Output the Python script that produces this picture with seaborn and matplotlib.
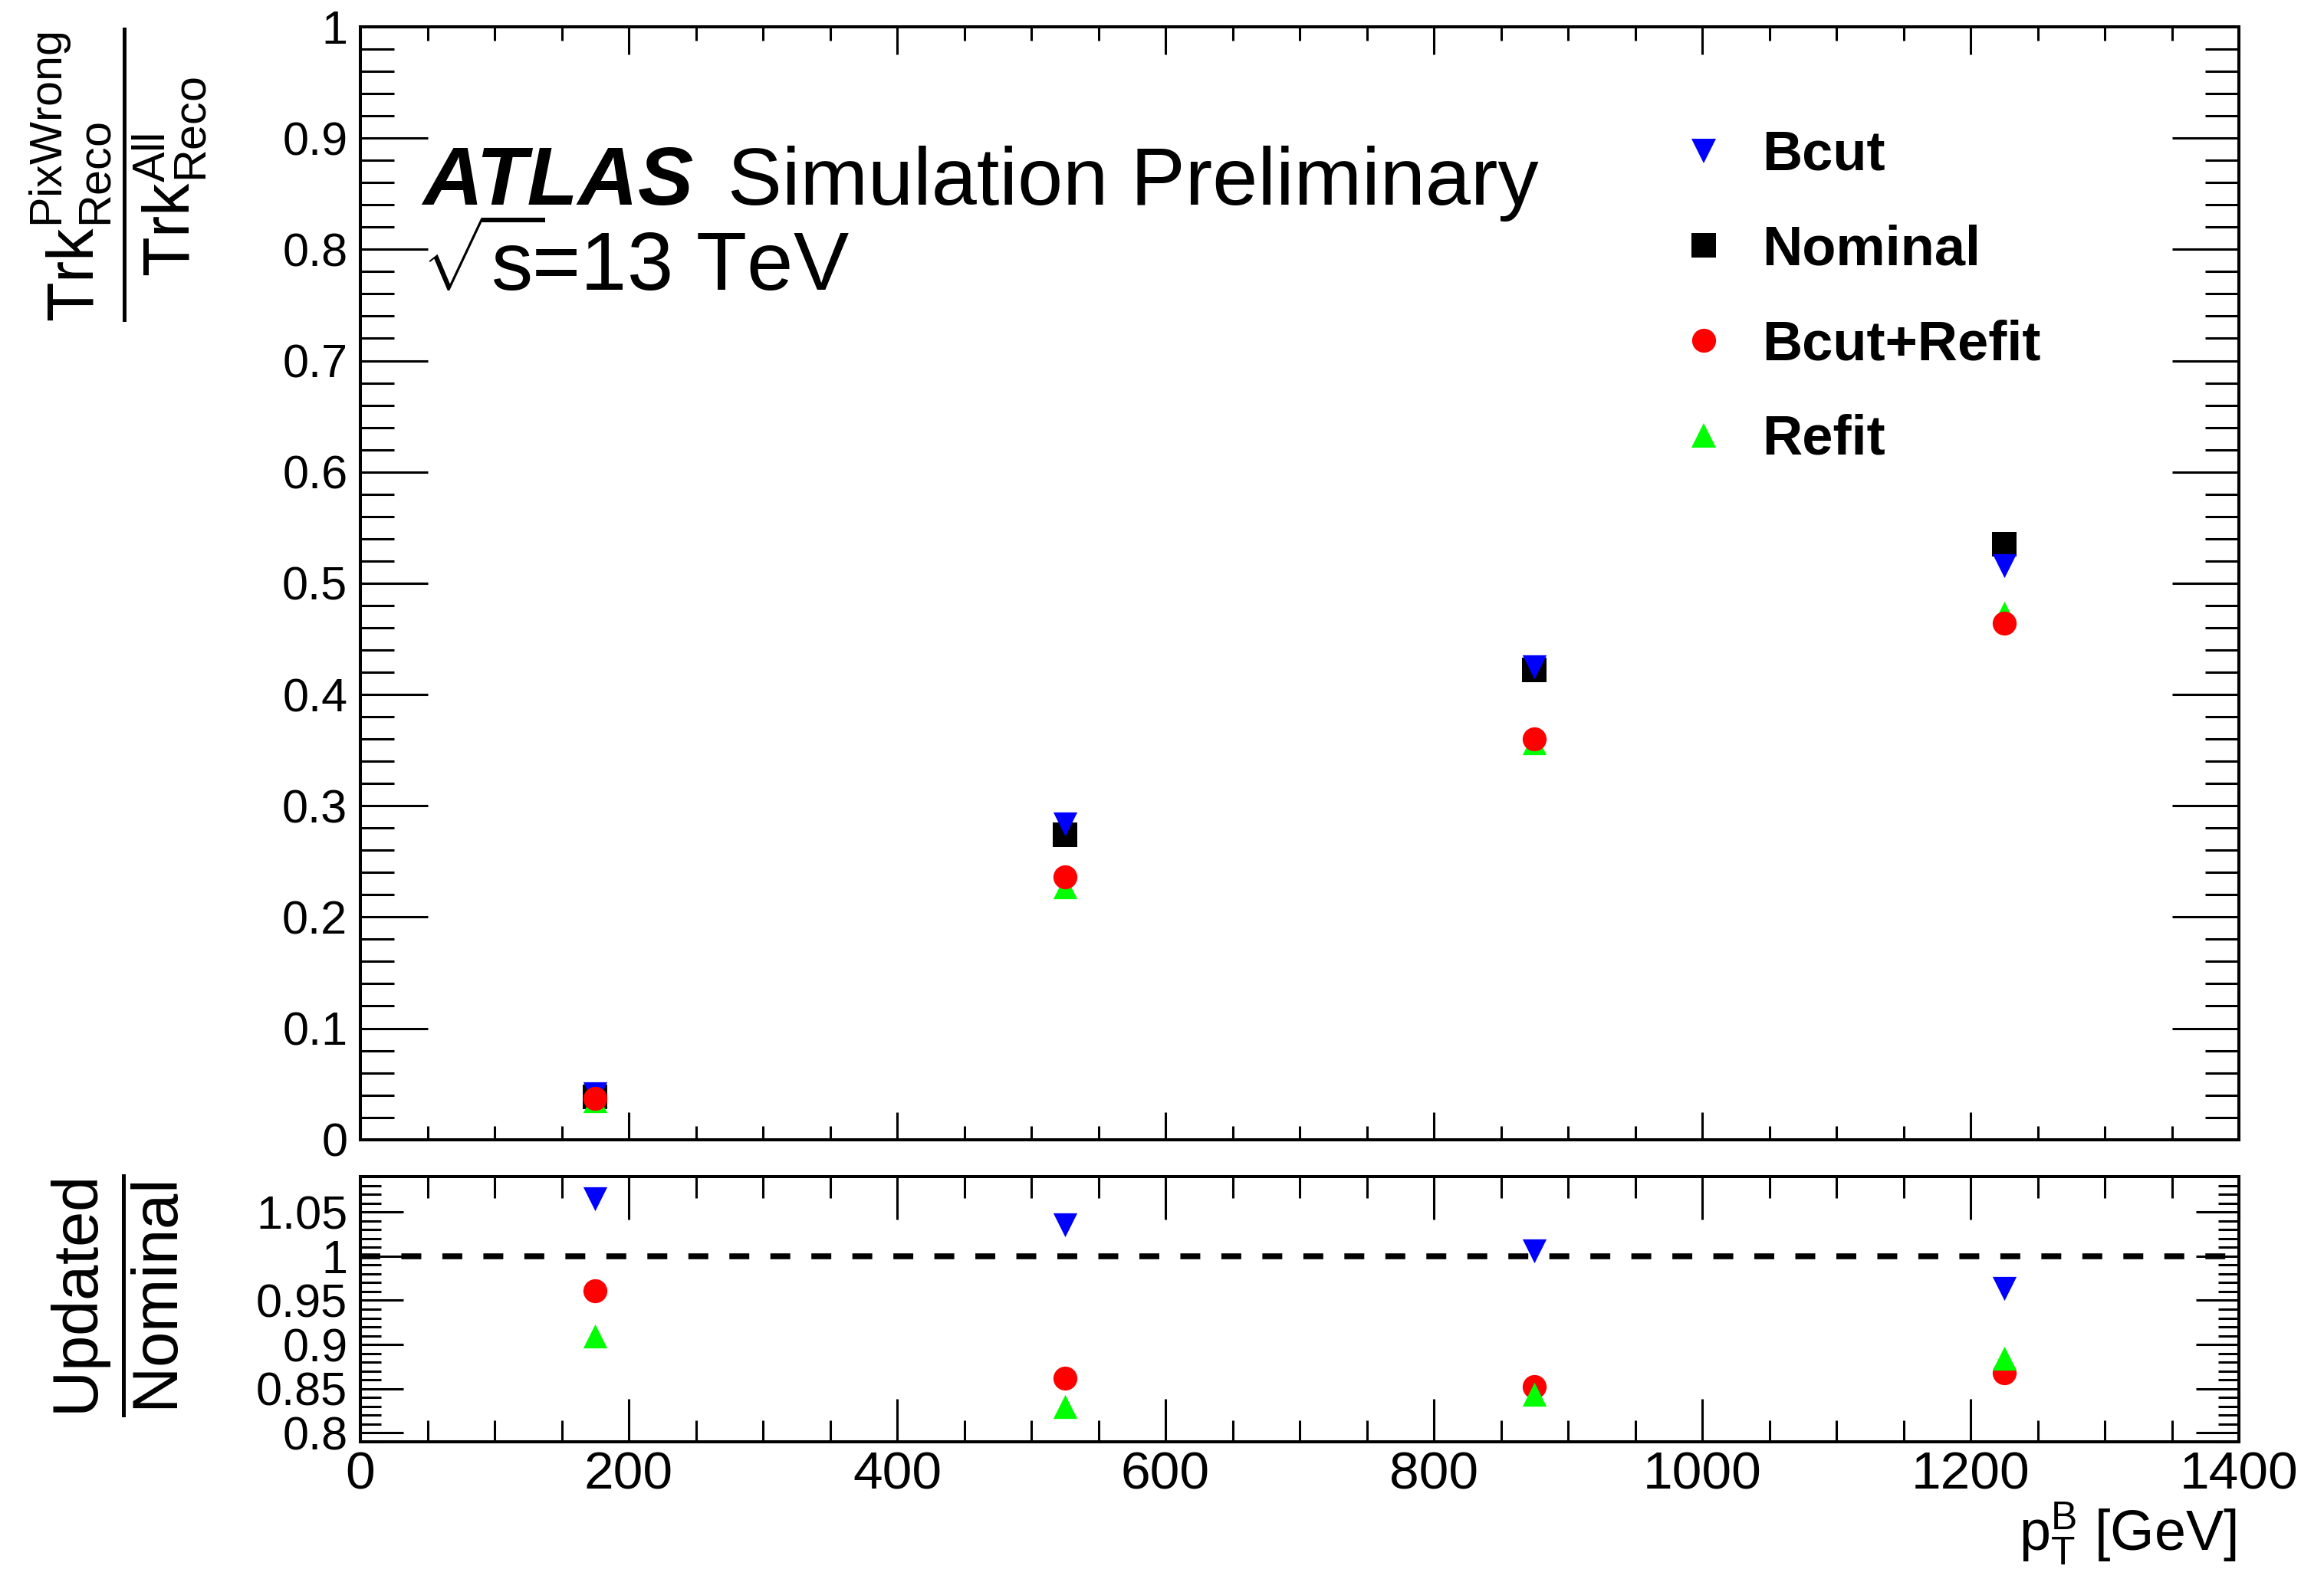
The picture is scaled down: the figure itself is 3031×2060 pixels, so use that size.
import numpy as np
import pandas as pd
import matplotlib
matplotlib.use("Agg")
import matplotlib.pyplot as plt
from matplotlib.ticker import MultipleLocator, FuncFormatter
from matplotlib.lines import Line2D
from matplotlib.font_manager import FontProperties
import seaborn as sns

# ---------------- data ----------------
pt_bins = [175, 525, 875, 1225]
nominal = [0.0386, 0.274, 0.4224, 0.535]
bcut = [0.0411, 0.2836, 0.4249, 0.5156]
bcut_refit = [0.0371, 0.2361, 0.3599, 0.4643]
refit = [0.0351, 0.2274, 0.3563, 0.4732]

series_labels = ["Bcut", "Nominal", "Bcut+Refit", "Refit"]
series_colors = {"Bcut": "#0000ff", "Nominal": "#000000", "Bcut+Refit": "#ff0000", "Refit": "#00ff00"}
series_markers = {"Bcut": "v", "Nominal": "s", "Bcut+Refit": "o", "Refit": "^"}
values = {"Bcut": bcut, "Nominal": nominal, "Bcut+Refit": bcut_refit, "Refit": refit}

ratio = {k: list(np.array(values[k]) / np.array(nominal)) for k in ["Bcut", "Bcut+Refit", "Refit"]}

# ---------------- style ----------------
sns.set_style("ticks")
plt.rcParams["font.family"] = ["Liberation Sans", "DejaVu Sans"]
plt.rcParams["mathtext.fontset"] = "custom"
plt.rcParams["mathtext.rm"] = "Liberation Sans"
plt.rcParams["mathtext.sf"] = "Liberation Sans"
plt.rcParams["mathtext.it"] = "Liberation Sans:italic"
plt.rcParams["mathtext.bf"] = "Liberation Sans:bold"
for key in ["text.color", "axes.labelcolor", "xtick.color", "ytick.color",
            "xtick.labelcolor", "ytick.labelcolor", "axes.edgecolor"]:
    plt.rcParams[key] = "black"

W, H = 3031, 2060
fig = plt.figure(figsize=(W / 100, H / 100), dpi=100)
fig.patch.set_facecolor("white")

left = 470 / W
width = 2920 / W - left
ax_main = fig.add_axes([left, 1 - 1486.7 / H, width, (1486.7 - 35) / H])
ax_ratio = fig.add_axes([left, 1 - 1881 / H, width, (1881 - 1535) / H])

MS = 22.5  # marker size in points

# main panel: draw order Nominal, Bcut, Refit, Bcut+Refit
for i, name in enumerate(["Nominal", "Bcut", "Refit", "Bcut+Refit"]):
    df = pd.DataFrame({"pt": pt_bins, "val": values[name]})
    sns.scatterplot(data=df, x="pt", y="val", ax=ax_main, marker=series_markers[name],
                    color=series_colors[name], s=MS ** 2, linewidth=0, legend=False,
                    zorder=3 + i, clip_on=False)

# ratio panel: draw order Bcut, Bcut+Refit, Refit
for i, name in enumerate(["Bcut", "Bcut+Refit", "Refit"]):
    df = pd.DataFrame({"pt": pt_bins, "val": ratio[name]})
    sns.scatterplot(data=df, x="pt", y="val", ax=ax_ratio, marker=series_markers[name],
                    color=series_colors[name], s=MS ** 2, linewidth=0, legend=False,
                    zorder=3 + i, clip_on=False)

ax_ratio.axhline(1.0, color="black", lw=5.5, dashes=(3.4, 3.6), zorder=2)

# axes limits
for ax in (ax_main, ax_ratio):
    ax.set_xlim(0, 1400)
    ax.set_xlabel("")
    ax.set_ylabel("")
    for sp in ax.spines.values():
        sp.set_visible(True)
        sp.set_linewidth(2.9)
        sp.set_color("black")
    ax.xaxis.set_major_locator(MultipleLocator(200))
    ax.xaxis.set_minor_locator(MultipleLocator(50))
    ax.set_facecolor("white")
    ax.grid(False)

ax_main.set_ylim(0, 1)
ax_main.yaxis.set_major_locator(MultipleLocator(0.1))
ax_main.yaxis.set_minor_locator(MultipleLocator(0.02))
ax_ratio.set_ylim(0.79, 1.09)
ax_ratio.yaxis.set_major_locator(MultipleLocator(0.05))
ax_ratio.yaxis.set_minor_locator(MultipleLocator(0.01))

fmt = FuncFormatter(lambda v, p: "%g" % round(v, 4))
ax_main.yaxis.set_major_formatter(fmt)
ax_ratio.yaxis.set_major_formatter(fmt)
ax_ratio.xaxis.set_major_formatter(FuncFormatter(lambda v, p: "%d" % round(v)))

# tick styling
ax_main.tick_params(axis="x", which="both", direction="in", top=True, bottom=True,
                    labelbottom=False, width=2.2, color="black")
ax_main.tick_params(axis="x", which="major", length=26)
ax_main.tick_params(axis="x", which="minor", length=13)
ax_main.tick_params(axis="y", which="both", direction="in", left=True, right=True,
                    width=2.2, labelsize=44, pad=12, color="black", labelcolor="black")
ax_main.tick_params(axis="y", which="major", length=63)
ax_main.tick_params(axis="y", which="minor", length=32)

ax_ratio.tick_params(axis="x", which="both", direction="in", top=True, bottom=True,
                     width=2.2, labelsize=50, pad=8, color="black", labelcolor="black")
ax_ratio.tick_params(axis="x", which="major", length=40)
ax_ratio.tick_params(axis="x", which="minor", length=20)
ax_ratio.tick_params(axis="y", which="both", direction="in", left=True, right=True,
                     width=2.2, labelsize=44, pad=12, color="black", labelcolor="black")
ax_ratio.tick_params(axis="y", which="major", length=40)
ax_ratio.tick_params(axis="y", which="minor", length=19.5)

# legend
handles = [Line2D([], [], linestyle="none", marker=series_markers[n], color=series_colors[n],
                  markersize=MS, markeredgewidth=0) for n in series_labels]
leg = ax_main.legend(handles, series_labels, loc="upper left",
                     bbox_to_anchor=(2186 / W, 1 - 169 / H), bbox_transform=fig.transFigure,
                     frameon=False, prop=FontProperties(family="Liberation Sans", weight="bold", size=52),
                     handlelength=1.0, handletextpad=0.55, labelspacing=0.77,
                     borderpad=0, borderaxespad=0)
for t in leg.get_texts():
    t.set_color("black")

# ATLAS label
fig.text(551 / W, 1 - 267 / H, "ATLAS", fontsize=78, fontweight="bold", fontstyle="italic",
         ha="left", va="baseline", color="black")
fig.text(949 / W, 1 - 267 / H, "Simulation Preliminary", fontsize=76.5, ha="left", va="baseline",
         color="black")
fig.text(550 / W, 1 - 380 / H, r"$\sqrt{\mathrm{s}}\!$=13 TeV", fontsize=78, ha="left",
         va="baseline", color="black")

# axis titles
fig.text(155 / W, 1 - 35 / H,
         r"$\dfrac{\mathrm{Trk}^{\mathrm{PixWrong}}_{\mathrm{Reco}}}{\mathrm{Trk}^{\mathrm{All}}_{\mathrm{Reco}}}$",
         fontsize=61, rotation=90, ha="center", va="top", color="black")
fig.text(151 / W, 1 - 1690 / H, r"$\dfrac{\mathrm{Updated}}{\mathrm{Nominal}}$",
         fontsize=60, rotation=90, ha="center", va="center", color="black")
fig.text(2916 / W, 1 - 2023 / H, r"$\mathrm{p}_{\mathrm{T}}^{\mathrm{B}}$ [GeV]",
         fontsize=53, ha="right", va="baseline", color="black")

fig.savefig("out.png", dpi=100, facecolor="white")
